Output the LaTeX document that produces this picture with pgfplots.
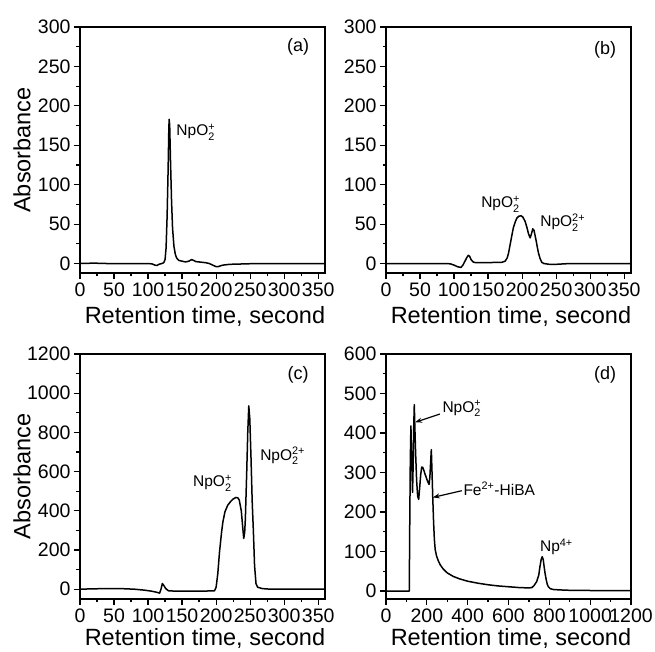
\documentclass[border=0pt]{standalone}
\usepackage{fontspec}
\setmainfont{Liberation Sans}
\usepackage{amsmath}
\usepackage{pgfplots}
\pgfplotsset{compat=1.18}
\usetikzlibrary{arrows.meta}

\newcommand{\tickfont}{\fontsize{19.5}{21}\selectfont}
\newcommand{\labfont}{\fontsize{23.5}{26}\selectfont}
\newcommand{\annfont}{\fontsize{15.5}{17}\selectfont}

\pgfplotsset{
 chrom/.style={
  scale only axis, width=245pt, anchor=south west,
  axis line style={line width=1.6pt},
  tick style={line width=1.2pt, black},
  major tick length=6pt, minor tick length=3.5pt,
  tick align=outside, xtick pos=left, ytick pos=left,
  minor x tick num=1, minor y tick num=1,
  tick label style={font=\tickfont},
  /pgf/number format/assume math mode=true,
  /pgf/number format/1000 sep={},
  every axis x label/.style={at={(axis description cs:0.51,-0.207)},anchor=base,font=\labfont},
  every axis y label/.style={at={(axis description cs:-0.237,0.5)},rotate=90,anchor=center,font=\labfont},
  xlabel={Retention time, second},
 },
 lower/.style={every axis x label/.append style={at={(axis description cs:0.51,-0.19)}}},
 trace/.style={black, line width=1.5pt, no marks, line join=round},
}

\begin{document}
\begin{tikzpicture}
\useasboundingbox (0,0) rectangle (655pt,652pt);

% (a)
\begin{axis}[chrom, at={(80pt,379pt)}, height=246pt,
 xmin=0, xmax=360, ymin=-12, ymax=300, ylabel={Absorbance},
 xtick={0,50,...,350}, ytick={0,50,...,300}]
\addplot[trace] coordinates {
 (0,0) (20,0.5) (40,0) (60,0) (80,0) (100,0) (106,-0.5) (110,-2) (113,-2.5)
 (116,-1) (120,0) (123,1) (125,5) (126.5,20) (128,60) (129.5,120) (130.5,170)
 (131,183) (131.8,175) (133,130) (134.5,80) (136,45) (138,22) (140,12) (142,7)
 (145,4) (150,3) (155,2) (160,3) (164,5) (167,4) (170,2.5) (175,2) (180,1.5)
 (185,1) (190,0) (195,-2) (200,-4) (203,-4) (206,-3) (210,-2) (220,-1)
 (240,-0.5) (260,0) (300,0) (360,0)};
\node[anchor=base west, inner sep=0, font=\annfont] at (axis cs:141.5,162) {NpO$_{\text{2}}^{\text{+}}$};
\node[font=\fontsize{18}{20}\selectfont] at (axis description cs:0.89,0.92) {(a)};
\end{axis}

% (b)
\begin{axis}[chrom, at={(386pt,379pt)}, height=246pt,
 xmin=0, xmax=360, ymin=-12, ymax=300,
 xtick={0,50,...,350}, ytick={0,50,...,300}]
\addplot[trace] coordinates {
 (0,0) (50,0) (90,0) (95,-0.5) (100,-2) (105,-4) (110,-5) (113,-2) (116,3)
 (119,8) (121,10.5) (123,9) (125,5) (128,2) (132,1) (140,1) (150,1) (160,1.5)
 (170,1.5) (175,3) (178,7) (180,13) (182.4,24) (185,36) (187.3,46) (190,53)
 (192.2,57.5) (195,60) (198.5,60.5) (201,59) (204.4,53.5) (207,46) (209.3,38)
 (211.8,32.5) (213.5,37) (215.7,44) (217.5,42) (220.6,29) (222.5,20)
 (224,13.5) (226.5,6) (229,1.5) (232,0) (240,-1) (250,-1) (270,0) (300,0) (360,0)};
\node[anchor=base west, inner sep=0, font=\annfont] at (axis cs:139.7,70.5) {NpO$_{\text{2}}^{\text{+}}$};
\node[anchor=base west, inner sep=0, font=\annfont] at (axis cs:226.5,47) {NpO$_{\text{2}}^{\text{2+}}$};
\node[font=\fontsize{18}{20}\selectfont] at (axis description cs:0.894,0.906) {(b)};
\end{axis}

% (c)
\begin{axis}[chrom, lower, at={(80pt,53pt)}, height=245pt,
 xmin=0, xmax=360, ymin=-50, ymax=1200, ylabel={Absorbance},
 xtick={0,50,...,350}, ytick={0,200,...,1200}]
\addplot[trace] coordinates {
 (0,0) (20,2) (40,3) (60,3) (80,0) (95,-5) (105,-10) (112,-15) (117,-20)
 (119,0) (121,29) (123,20) (126,3) (130,-8) (140,-10) (160,-10) (180,-10)
 (197.7,-8) (200,10) (202.5,80) (205,190) (208,290) (210,344) (213,395)
 (217,428) (221,446) (225,460) (229,468) (232,466) (234,455) (237,400) (239,320)
 (240.6,259) (242,290) (243,361) (245,600) (246.5,800) (248,935) (249.5,870)
 (251.3,667) (253,450) (254.8,293) (256.5,120) (258.6,29) (261,10) (268,3)
 (280,0) (360,0)};
\node[anchor=base west, inner sep=0, font=\annfont] at (axis cs:166,522) {NpO$_{\text{2}}^{\text{+}}$};
\node[anchor=base west, inner sep=0, font=\annfont] at (axis cs:264.6,659) {NpO$_{\text{2}}^{\text{2+}}$};
\node[font=\fontsize{18}{20}\selectfont] at (axis description cs:0.89,0.914) {(c)};
\end{axis}

% (d)
\begin{axis}[chrom, lower, at={(386pt,53pt)}, height=245pt,
 xmin=0, xmax=1200, ymin=-20, ymax=600,
 xtick={0,200,...,1200}, ytick={0,100,...,600}]
\addplot[trace] coordinates {
 (0,0) (50,0) (100,0) (114,0) (116,150) (119,330) (122,418) (126,330)
 (130,250) (133,320) (136,420) (138.6,472) (141,420) (145,350) (150,280)
 (155,240) (160,232) (165,262) (170,295) (175,314) (180,313) (185,306)
 (192,295) (200,283) (206,275) (211,270) (215,290) (219,330) (222,358)
 (226,290) (229,237) (233,175) (237,130) (241,105) (247,90) (255,78)
 (265,67) (280,56) (300,46) (330,37) (360,31) (400,25) (450,20) (500,16) (550,13)
 (600,11) (650,9) (700,8) (715,9) (725,14) (738,24) (748,40) (754,62)
 (760,80) (765,87) (770,80) (775,60) (779,45) (785,28) (790,17) (795,11)
 (805,6) (820,4) (850,3) (900,2) (1000,1.5) (1100,1) (1200,1)};
\node[anchor=base west, inner sep=0, font=\annfont] at (axis cs:276,453) {NpO$_{\text{2}}^{\text{+}}$};
\draw[line width=1.2pt, -{Stealth[length=7pt,width=5pt]}] (axis cs:264,448) -- (axis cs:142,427);
\node[anchor=base west, inner sep=0, font=\annfont] at (axis cs:378.6,243) {Fe$^{\text{2+}}$-HiBA};
\draw[line width=1.2pt, -{Stealth[length=7pt,width=5pt]}] (axis cs:371,254) -- (axis cs:229,237);
\node[anchor=base west, inner sep=0, font=\annfont] at (axis cs:754,100) {Np$^{\text{4+}}$};
\node[font=\fontsize{18}{20}\selectfont] at (axis description cs:0.894,0.914) {(d)};
\end{axis}
\end{tikzpicture}
\end{document}
